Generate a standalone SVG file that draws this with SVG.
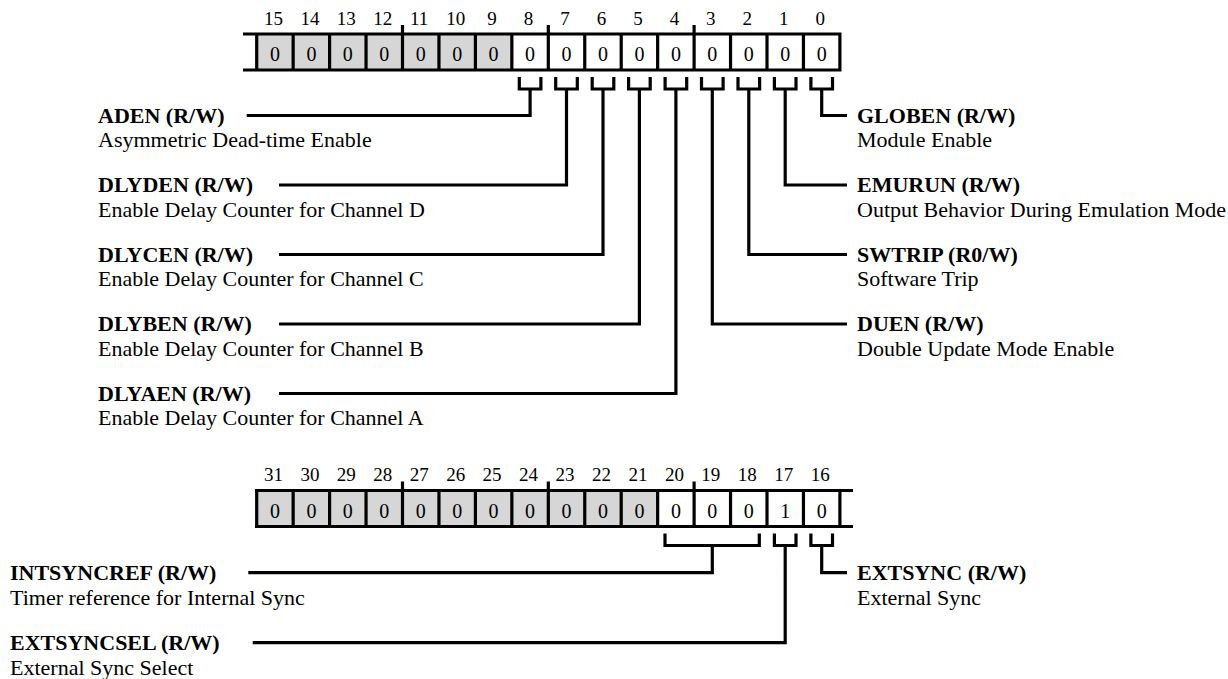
<svg xmlns="http://www.w3.org/2000/svg" width="1228" height="679" viewBox="0 0 1228 679">
<style>
text{font-family:"Liberation Serif","Times New Roman",serif;fill:#000}
.bn{font-size:19px;text-anchor:middle}
.cv{font-size:20px;text-anchor:middle}
.nm{font-size:22px;font-weight:bold}
.ds{font-size:22px}
.ln{fill:none;stroke:#000;stroke-width:3.2;stroke-linejoin:miter;stroke-linecap:butt}
.sh{fill:#d6d6d6}
</style>
<rect width="1228" height="679" fill="#fff"/>
<g id="register-low">
<rect class="sh" x="256.7" y="34" width="255.15" height="36"/>
<path class="ln" d="M243 34H841.5M243 70H841.5M256.7 34V70M293.15 34V70M329.6 34V70M366.05 34V70M402.5 25V70M438.95 34V70M475.4 34V70M511.85 34V70M548.3 25V70M584.75 34V70M621.2 34V70M657.65 34V70M694.1 25V70M730.55 34V70M767 34V70M803.45 34V70M839.9 34V70"/>
<g class="bn">
<text x="273.4" y="24.5">15</text><text x="309.9" y="24.5">14</text><text x="346.3" y="24.5">13</text><text x="382.8" y="24.5">12</text><text x="419.2" y="24.5">11</text><text x="455.7" y="24.5">10</text><text x="492.1" y="24.5">9</text><text x="528.6" y="24.5">8</text><text x="565" y="24.5">7</text><text x="601.5" y="24.5">6</text><text x="637.9" y="24.5">5</text><text x="674.4" y="24.5">4</text><text x="710.8" y="24.5">3</text><text x="747.3" y="24.5">2</text><text x="783.7" y="24.5">1</text><text x="820.2" y="24.5">0</text>
</g>
<g class="cv">
<text x="274.9" y="61">0</text><text x="311.4" y="61">0</text><text x="347.8" y="61">0</text><text x="384.3" y="61">0</text><text x="420.7" y="61">0</text><text x="457.2" y="61">0</text><text x="493.6" y="61">0</text><text x="530.1" y="61">0</text><text x="566.5" y="61">0</text><text x="603" y="61">0</text><text x="639.4" y="61">0</text><text x="675.9" y="61">0</text><text x="712.3" y="61">0</text><text x="748.8" y="61">0</text><text x="785.2" y="61">0</text><text x="821.7" y="61">0</text>
</g>
</g>
<g id="register-high">
<rect class="sh" x="256.7" y="490.5" width="400.95" height="36"/>
<path class="ln" d="M255 490.5H853M255 526.5H853M256.7 490.5V526.5M293.15 490.5V526.5M329.6 490.5V526.5M366.05 490.5V526.5M402.5 481.5V526.5M438.95 490.5V526.5M475.4 490.5V526.5M511.85 490.5V526.5M548.3 481.5V526.5M584.75 490.5V526.5M621.2 490.5V526.5M657.65 490.5V526.5M694.1 481.5V526.5M730.55 490.5V526.5M767 490.5V526.5M803.45 490.5V526.5M839.9 490.5V526.5"/>
<g class="bn">
<text x="273.4" y="481">31</text><text x="309.9" y="481">30</text><text x="346.3" y="481">29</text><text x="382.8" y="481">28</text><text x="419.2" y="481">27</text><text x="455.7" y="481">26</text><text x="492.1" y="481">25</text><text x="528.6" y="481">24</text><text x="565" y="481">23</text><text x="601.5" y="481">22</text><text x="637.9" y="481">21</text><text x="674.4" y="481">20</text><text x="710.8" y="481">19</text><text x="747.3" y="481">18</text><text x="783.7" y="481">17</text><text x="820.2" y="481">16</text>
</g>
<g class="cv">
<text x="274.9" y="517.5">0</text><text x="311.4" y="517.5">0</text><text x="347.8" y="517.5">0</text><text x="384.3" y="517.5">0</text><text x="420.7" y="517.5">0</text><text x="457.2" y="517.5">0</text><text x="493.6" y="517.5">0</text><text x="530.1" y="517.5">0</text><text x="566.5" y="517.5">0</text><text x="603" y="517.5">0</text><text x="639.4" y="517.5">0</text><text x="675.9" y="517.5">0</text><text x="712.3" y="517.5">0</text><text x="748.8" y="517.5">0</text><text x="785.2" y="517.5">1</text><text x="821.7" y="517.5">0</text>
</g>
</g>
<g id="connectors">
<path class="ln" d="M519.3 77V89H540.9V77M555.7 77V89H577.3V77M592.2 77V89H613.8V77M628.6 77V89H650.2V77M665.1 77V89H686.7V77M701.5 77V89H723.1V77M738 77V89H759.6V77M774.4 77V89H796V77M810.9 77V89H832.5V77"/>
<path class="ln" d="M530.1 89V115.5H246.7M566.5 89V185H279M603 89V254.5H279M639.4 89V324H279M675.9 89V393.5H279"/>
<path class="ln" d="M821.7 89V115.5H847M785.2 89V185H847M748.8 89V254.5H847M712.3 89V324H847"/>
<path class="ln" d="M665 533.5V545.5H759.3V533.5M774.4 533.5V545.5H796V533.5M810.9 533.5V545.5H832.5V533.5"/>
<path class="ln" d="M712.3 545.5V572.7H248.3M785.2 545.5V642.7H252.7M821.7 545.5V572.7H847"/>
</g>
<g id="aden"><text class="nm" x="98" y="122.8">ADEN (R/W)</text><text class="ds" x="98" y="147.3">Asymmetric Dead-time Enable</text></g>
<g id="dlyden"><text class="nm" x="98" y="192.3">DLYDEN (R/W)</text><text class="ds" x="98" y="216.8">Enable Delay Counter for Channel D</text></g>
<g id="dlycen"><text class="nm" x="98" y="261.8">DLYCEN (R/W)</text><text class="ds" x="98" y="286.3">Enable Delay Counter for Channel C</text></g>
<g id="dlyben"><text class="nm" x="98" y="331.3">DLYBEN (R/W)</text><text class="ds" x="98" y="355.8">Enable Delay Counter for Channel B</text></g>
<g id="dlyaen"><text class="nm" x="98" y="400.8">DLYAEN (R/W)</text><text class="ds" x="98" y="425.3">Enable Delay Counter for Channel A</text></g>
<g id="globen"><text class="nm" x="857" y="122.8">GLOBEN (R/W)</text><text class="ds" x="857" y="147.3">Module Enable</text></g>
<g id="emurun"><text class="nm" x="857" y="192.3">EMURUN (R/W)</text><text class="ds" x="857" y="216.8">Output Behavior During Emulation Mode</text></g>
<g id="swtrip"><text class="nm" x="857" y="261.8">SWTRIP (R0/W)</text><text class="ds" x="857" y="286.3">Software Trip</text></g>
<g id="duen"><text class="nm" x="857" y="331.3">DUEN (R/W)</text><text class="ds" x="857" y="355.8">Double Update Mode Enable</text></g>
<g id="intsyncref"><text class="nm" x="10" y="580">INTSYNCREF (R/W)</text><text class="ds" x="10" y="604.5">Timer reference for Internal Sync</text></g>
<g id="extsyncsel"><text class="nm" x="10" y="650">EXTSYNCSEL (R/W)</text><text class="ds" x="10" y="674.5">External Sync Select</text></g>
<g id="extsync"><text class="nm" x="857" y="580">EXTSYNC (R/W)</text><text class="ds" x="857" y="604.5">External Sync</text></g>
</svg>
